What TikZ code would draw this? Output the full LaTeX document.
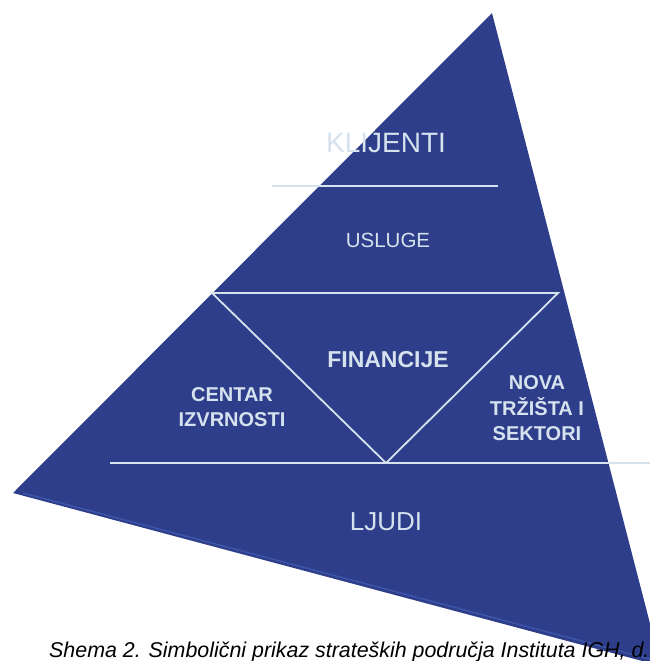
\documentclass[tikz,border=0pt]{standalone}
\usepackage{fontspec}
\setmainfont{Liberation Sans}
\usetikzlibrary{calc}
\definecolor{pyr}{RGB}{46,62,138}
\definecolor{pyredge}{RGB}{62,86,170}
\definecolor{pale}{RGB}{214,226,238}
\begin{document}
\begin{tikzpicture}[x=1pt,y=-1pt,
  lbl/.style={text=pale, font=\fontsize{20}{24.5}\selectfont, align=center, inner sep=0pt},
  boldlbl/.style={lbl, font=\bfseries\fontsize{20}{25}\selectfont},
  rule/.style={draw=pale, line width=1.8pt}]
\useasboundingbox (0,0) rectangle (650,661);
\clip (0,0) rectangle (650,661);
% pyramid
\coordinate (apex) at (492,13);
\coordinate (lv) at (13,493);
\coordinate (rv) at (661,666);
\fill[pyr] (apex) -- (lv) -- (rv) -- cycle;
\draw[pyredge, line width=1.4pt] ($(lv)+(10,0)$) -- ($(rv)+(0,-4)$);
% dividing lines
\coordinate (kl) at (272,186);
\coordinate (kr) at (498,186);
\draw[rule] (kl) -- (kr);
\coordinate (bl) at (110,463);
\coordinate (br) at (650,463);
\draw[rule] (bl) -- (br);
% inverted triangle
\coordinate (itl) at (212,293);
\coordinate (itr) at (558,293);
\coordinate (itb) at (386,463);
\draw[rule, line join=miter] (itr) -- (itl) -- (itb) -- cycle;
% labels
\node[lbl, anchor=base, font=\fontsize{28}{30}\selectfont] (klijenti) at (386,152) {KLIJENTI};
\node[lbl, anchor=base, font=\fontsize{20.5}{24}\selectfont] (usluge) at (388,247) {USLUGE};
\node[boldlbl, anchor=base, font=\bfseries\fontsize{23}{26}\selectfont] (financije) at (388,367) {FINANCIJE};
\node[boldlbl, font=\bfseries\fontsize{20}{24.5}\selectfont] (centar) at (232,407) {CENTAR\\IZVRNOSTI};
\node[boldlbl, font=\bfseries\fontsize{20}{25.5}\selectfont] (nova) at (537,408.5) {NOVA\\TRŽIŠTA I\\SEKTORI};
\node[lbl, anchor=base, font=\fontsize{26}{28}\selectfont] (ljudi) at (386,530) {LJUDI};
% caption
\node[anchor=base west, inner sep=0pt, font=\itshape\fontsize{21.4}{24}\selectfont] (caption) at (49,657) {Shema 2. Simbolični prikaz strateških područja Instituta IGH, d.d.};
\end{tikzpicture}
\end{document}
